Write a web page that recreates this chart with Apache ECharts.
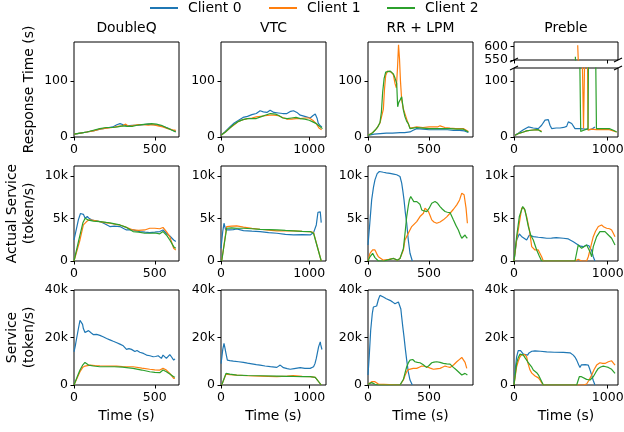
<!DOCTYPE html>
<html><head><meta charset="utf-8">
<script src="https://cdn.jsdelivr.net/npm/echarts@6/dist/echarts.min.js"></script>
<style>html,body{margin:0;padding:0;background:#fff}#c{width:624px;height:432px}</style>
</head><body><div id="c"></div>
<script>
// ---------- data: [time (s), value] ----------
// Row 1: Response Time (s)
const dqResp0 = [[0,5],[40,7],[80,9],[120,11],[160,14],[200,16],[240,18],[265,22],[285,24],[305,22],[330,20],[360,21],[400,21],[430,22],[460,23],[490,22],[520,21],[550,19],[580,16],[610,12],[630,10]];
const dqResp1 = [[0,5],[40,7],[80,9],[120,11],[160,14],[200,16],[240,17],[270,19],[300,20],[320,23],[340,19],[370,21],[400,22],[430,22],[460,21],[490,22],[520,20],[550,18],[580,15],[610,13],[630,12]];
const dqResp2 = [[0,5],[40,7],[80,9],[120,12],[160,15],[200,17],[240,17],[270,18],[300,20],[330,19],[360,19],[390,21],[420,22],[450,23],[480,24],[510,23],[540,21],[570,17],[600,13],[630,9]];

const vtcResp0 = [[0,3],[50,10],[100,18],[150,25],[200,30],[250,35],[300,37],[350,40],[400,42],[443,47],[480,45],[520,44],[557,48],[600,44],[650,43],[700,42],[747,42],[790,46],[822,47],[860,44],[898,39],[950,37],[1011,34],[1040,38],[1068,41],[1090,33],[1102,25],[1125,20],[1144,18]];
const vtcResp1 = [[0,3],[50,9],[100,16],[150,22],[200,28],[250,31],[300,33],[350,34],[400,36],[450,37],[500,38],[550,39],[600,39],[650,38],[700,35],[750,32],[800,32],[850,33],[900,33],[950,34],[1000,34],[1040,30],[1080,24],[1110,16],[1140,13]];
const vtcResp2 = [[0,3],[50,9],[100,16],[150,23],[200,28],[250,31],[300,33],[350,33],[400,33],[450,36],[500,39],[560,42],[620,41],[660,38],[700,34],[750,33],[800,34],[850,35],[900,33],[950,32],[1000,30],[1040,27],[1080,24],[1110,20],[1150,15]];

const rrResp0 = [[0,3],[50,5],[100,6],[150,7],[200,7],[262,8],[300,8],[344,9],[370,12],[399,15],[450,14],[500,13],[550,13],[600,13],[650,13],[700,12],[750,12],[790,11],[822,8]];
const rrResp1 = [[0,3],[40,8],[70,15],[98,25],[115,40],[126,50],[135,85],[145,110],[160,118],[175,120],[190,116],[208,111],[222,95],[232,88],[242,125],[250,165],[258,140],[266,100],[276,66],[290,50],[305,40],[317,32],[330,24],[344,16],[370,17],[399,18],[450,17],[500,18],[536,18],[570,18],[590,20],[630,17],[672,16],[720,15],[781,15],[822,10]];
const rrResp2 = [[0,3],[30,6],[57,12],[80,18],[98,26],[110,45],[120,80],[132,105],[145,116],[160,118],[180,118],[195,115],[208,113],[222,105],[235,96],[243,54],[252,62],[262,66],[276,72],[290,48],[303,36],[317,28],[330,24],[344,15],[370,16],[399,17],[450,16],[500,15],[536,15],[600,15],[672,15],[730,14],[781,14],[822,9]];

const pbResp0 = [[11,3],[40,6],[64,9],[100,13],[153,18],[206,16],[259,15],[295,21],[331,30],[350,29],[366,31],[384,21],[402,15],[450,16],[491,16],[530,17],[562,19],[580,27],[600,24],[616,24],[651,15],[704,15],[760,14],[811,13],[840,15],[864,18]];
const pbResp1 = [[11,3],[60,7],[100,9],[135,11],[180,12],[242,13],[270,12],[295,10],[300,null],[680,605],[742,15],[760,200],[778,300],[790,12],[820,14],[880,13],[950,13],[1017,13],[1060,11],[1096,9]];
const pbResp2 = [[11,3],[60,7],[100,9],[135,11],[180,12],[259,13],[295,9],[300,null],[655,562],[670,556],[712,10],[745,12],[790,15],[800,300],[862,300],[880,15],[950,15],[1017,15],[1060,12],[1096,9]];

// Row 2: Actual Service (token/s)
const dqAct0 = [[0,2500],[15,3800],[27,4850],[40,5600],[48,5750],[58,5500],[69,5050],[82,5240],[95,5000],[109,4850],[130,4750],[160,4650],[190,4400],[222,4060],[250,4100],[284,4060],[310,3800],[325,3660],[366,3660],[407,3470],[440,3400],[469,3350],[500,3400],[531,3470],[551,3660],[572,3270],[593,2950],[617,2480],[630,2300]];
const dqAct1 = [[0,0],[37,2480],[58,4250],[78,4650],[95,4850],[130,4750],[160,4650],[200,4500],[222,4450],[260,4300],[284,4250],[320,4000],[366,3660],[400,3600],[438,3660],[469,3860],[500,3860],[530,3800],[551,3950],[572,3470],[593,2870],[617,1500],[630,1300]];
const dqAct2 = [[0,0],[30,2500],[55,4500],[69,5050],[85,4850],[120,4700],[160,4650],[200,4550],[222,4500],[260,4350],[284,4250],[320,4000],[366,3470],[400,3400],[438,3270],[469,3270],[500,3300],[531,3200],[551,3470],[572,3070],[593,2480],[617,1690],[630,1500]];

const vtcAct0 = [[0,1500],[8,1690],[20,3500],[34,4450],[53,3660],[98,3660],[140,3700],[178,3780],[254,3580],[350,3520],[443,3470],[540,3350],[633,3270],[730,3150],[822,3070],[920,3100],[1011,3070],[1049,3350],[1080,4250],[1099,5750],[1117,5830],[1125,5800],[1136,4530]];
const vtcAct1 = [[8,0],[64,4060],[120,4100],[178,4140],[254,3990],[350,3850],[443,3740],[540,3650],[633,3550],[730,3550],[822,3550],[920,3500],[1011,3470],[1049,3350],[1070,3200],[1136,0]];
const vtcAct2 = [[8,0],[64,3860],[120,3900],[178,3860],[254,3860],[350,3800],[443,3740],[540,3700],[633,3660],[730,3600],[822,3550],[920,3500],[1011,3470],[1049,3270],[1070,3150],[1136,0]];

const rrAct0 = [[0,1890],[15,4500],[30,7210],[45,8700],[57,9570],[75,10300],[93,10550],[126,10460],[150,10400],[180,10330],[210,10250],[235,10170],[262,9960],[276,9180],[285,8300],[295,7210],[305,5800],[317,4450],[330,2480],[344,910],[363,0]];
const rrAct1 = [[0,0],[16,900],[38,1300],[57,1300],[70,900],[85,500],[126,100],[170,200],[208,300],[240,100],[262,300],[290,1300],[303,2480],[330,3270],[358,4060],[399,4650],[426,5240],[454,5630],[467,6230],[480,6000],[495,5830],[510,5300],[522,4850],[540,4600],[563,4450],[590,4600],[617,4850],[645,5200],[672,5630],[700,6100],[727,6620],[750,7200],[768,8000],[787,7810],[803,6230],[814,4450]];
const rrAct2 = [[0,0],[16,500],[38,900],[57,400],[85,0],[130,0],[180,200],[210,300],[240,100],[262,300],[290,1490],[305,3500],[317,5240],[330,6500],[339,7210],[350,7600],[363,7600],[375,7000],[385,6810],[400,7000],[412,7010],[425,6700],[440,6020],[460,5900],[481,5830],[500,6200],[522,6810],[549,7010],[570,6800],[590,6420],[610,6100],[631,5830],[650,5750],[672,5710],[685,5300],[699,4850],[720,4200],[740,3660],[755,3100],[768,2680],[780,2800],[795,3070],[805,2800],[814,2680]];

const pbAct0 = [[0,0],[28,2480],[57,3190],[80,2900],[100,2680],[135,2480],[164,3070],[206,2870],[260,2800],[300,2750],[349,2680],[400,2700],[450,2750],[527,2680],[580,2600],[633,2280],[686,1890],[710,1750],[740,1690],[775,1890],[800,1800],[811,1690],[830,1200],[846,510],[864,0]];
const pbAct1 = [[0,0],[28,2480],[57,4450],[82,6230],[107,6230],[135,5240],[164,3660],[189,1690],[224,1300],[259,1300],[295,500],[313,0],[651,0],[686,200],[720,0],[775,0],[793,500],[811,1300],[846,2870],[870,3500],[900,4060],[935,4250],[960,4000],[989,3860],[1020,3800],[1042,3660],[1060,3270],[1078,2870]];
const pbAct2 = [[0,0],[28,2870],[57,5240],[93,6420],[117,6020],[153,4060],[180,3000],[206,2480],[242,1300],[270,600],[295,0],[651,0],[686,1890],[722,1490],[775,1890],[811,1100],[829,500],[846,1690],[882,2870],[917,3470],[971,3470],[1007,3070],[1042,2680],[1078,1890]];

// Row 3: Service (token/s)
const dqSvc0 = [[0,14000],[8,16500],[16,19580],[28,24000],[37,27250],[43,28000],[48,27700],[53,25500],[58,23770],[68,22100],[80,22500],[90,22900],[105,22000],[119,21250],[140,21300],[160,20900],[180,20300],[202,19570],[222,19000],[243,18400],[265,17800],[284,17200],[305,16500],[325,15000],[340,15300],[356,15000],[377,14100],[390,14500],[407,13800],[430,13300],[449,12600],[470,12300],[490,11900],[505,12000],[521,12300],[541,11200],[551,12600],[562,12000],[572,11200],[583,11800],[593,12800],[603,11900],[617,10500],[625,11000]];
const dqSvc1 = [[0,0],[20,3000],[37,5580],[55,7500],[68,7970],[99,8380],[130,8200],[160,8100],[200,8000],[263,7970],[300,7800],[366,7680],[420,7100],[469,6620],[500,6400],[531,6290],[551,6990],[572,6290],[593,4880],[617,2800],[625,2900]];
const dqSvc2 = [[0,0],[20,3500],[37,6280],[55,8500],[68,9500],[90,8380],[120,8000],[160,7680],[250,7680],[300,7500],[366,6990],[420,6300],[469,5580],[500,5300],[531,5170],[551,6290],[572,5580],[593,4610],[617,3490],[625,3300]];

const vtcSvc0 = [[0,9000],[8,11190],[20,15000],[34,17480],[45,15500],[53,13960],[72,10480],[100,10300],[140,10060],[200,9800],[254,9500],[300,9200],[350,8900],[400,8600],[443,8380],[500,8000],[560,7700],[633,7420],[671,8380],[708,7290],[750,6900],[784,6620],[830,6900],[898,7290],[950,7000],[1011,6990],[1049,7680],[1065,9000],[1080,11190],[1106,16060],[1125,18150],[1130,17000],[1144,14940]];
const vtcSvc1 = [[8,0],[57,4610],[100,4400],[178,4190],[300,3900],[443,3770],[633,3490],[750,3700],[822,3910],[920,3600],[1011,3490],[1068,3210],[1136,0]];
const vtcSvc2 = [[8,0],[57,4890],[100,4600],[178,4190],[300,4000],[443,3900],[633,3770],[750,3650],[822,3600],[920,3550],[1011,3490],[1068,3210],[1136,0]];

const rrSvc0 = [[0,4190],[10,12000],[22,23060],[35,30000],[44,32830],[60,33000],[71,33260],[85,36000],[98,37740],[110,37600],[126,37040],[150,36300],[180,35640],[200,35000],[221,34240],[235,34700],[249,34940],[262,34240],[269,32000],[276,28650],[285,24500],[295,20260],[305,15500],[317,10480],[330,5500],[344,2100],[363,0]];
const rrSvc1 = [[0,300],[15,900],[30,1400],[57,1400],[70,900],[85,400],[100,0],[262,0],[275,600],[290,2100],[303,4000],[317,5590],[330,6500],[344,6990],[370,7000],[399,6990],[420,7500],[440,7970],[460,7900],[481,7680],[510,7100],[536,6620],[560,6800],[590,6990],[610,7500],[631,7970],[650,7700],[672,7410],[700,8400],[727,9780],[750,10800],[768,11600],[781,11190],[795,9500],[809,6990]];
const rrSvc2 = [[0,300],[15,700],[30,1000],[57,300],[85,0],[262,0],[275,800],[290,2400],[303,5000],[317,7680],[330,9300],[344,10480],[366,10750],[385,9780],[405,9500],[426,9360],[450,8600],[481,7410],[500,8200],[522,9360],[540,9600],[563,9780],[590,9500],[617,9080],[645,8900],[672,8800],[685,8200],[699,7410],[720,6500],[740,5590],[755,4800],[768,4190],[780,4500],[795,4890],[805,4400],[814,4190]];

const pbSvc0 = [[0,0],[15,7000],[28,11870],[45,14500],[57,15100],[70,14500],[82,13960],[100,13000],[117,12580],[145,12580],[160,13500],[171,13960],[190,14200],[224,14390],[280,14200],[349,13960],[430,13800],[527,13700],[598,13560],[633,12580],[655,11500],[669,10480],[690,8500],[704,7410],[720,8500],[740,9080],[760,8600],[793,8380],[810,6500],[829,4190],[845,2000],[864,0]];
const pbSvc1 = [[0,0],[28,7690],[45,10000],[64,11870],[82,12800],[100,13280],[117,12800],[135,11870],[150,9000],[171,6290],[190,5000],[206,4190],[225,3800],[242,3490],[260,3000],[277,2100],[295,1000],[313,0],[704,0],[740,0],[775,420],[800,2000],[829,4190],[855,6500],[882,8380],[917,9360],[945,9100],[971,9080],[1007,9780],[1042,10200],[1060,9360],[1078,8380]];
const pbSvc2 = [[0,0],[28,9080],[45,11500],[64,13000],[82,13000],[100,12580],[117,11500],[135,10480],[150,9500],[171,9080],[190,7500],[206,6290],[242,5170],[260,4300],[277,3490],[295,1500],[313,0],[669,0],[697,3490],[720,3500],[740,3490],[775,2380],[811,2100],[846,3490],[875,5500],[900,6990],[925,7600],[953,7970],[980,7700],[1007,7410],[1042,6620],[1078,4890]];

// ---------- labels & ticks ----------
const methods = ['DoubleQ', 'VTC', 'RR + LPM', 'Preble'];
const clients = ['Client 0', 'Client 1', 'Client 2'];
const rowNames = ['Response Time (s)', 'Actual Service\n(token/s)', 'Service\n(token/s)'];
const xMax = [650, 1190, 860, 1110];
const xTicks = [[0, 500], [0, 1000], [0, 500], [0, 1000]];
const yMax = [170, 11200, 40000];
const yTicks = [[0, 100], [0, 5000, 10000], [0, 20000, 40000]];
const brokenUpperRange = [550, 617];
const brokenUpperTicks = [550, 600];
const brokenLowerMax = 123;
const brokenLowerTicks = [0, 100];

const panelData = [
  [[dqResp0, dqResp1, dqResp2], [vtcResp0, vtcResp1, vtcResp2], [rrResp0, rrResp1, rrResp2], [pbResp0, pbResp1, pbResp2]],
  [[dqAct0, dqAct1, dqAct2], [vtcAct0, vtcAct1, vtcAct2], [rrAct0, rrAct1, rrAct2], [pbAct0, pbAct1, pbAct2]],
  [[dqSvc0, dqSvc1, dqSvc2], [vtcSvc0, vtcSvc1, vtcSvc2], [rrSvc0, rrSvc1, rrSvc2], [pbSvc0, pbSvc1, pbSvc2]]
];

// ---------- layout / style ----------
const FONT = 'DejaVu Sans';
const COLORS = ['#1f77b4', '#ff7f0e', '#2ca02c'];
const colLeft = [74, 221, 368, 514];
const colW = [105, 105, 105, 104];
const rowTop = [42, 166, 290];
const rowH = 95;
const LABEL_MARGIN = 6;

const fmtY = v => v >= 1000 ? (v / 1000) + 'k' : String(v);
const fmtX = v => String(v);
const tickStyle = ticks => ({show: true, inside: false, length: 3.5, lineStyle: {color: '#000', width: 1}, customValues: ticks});
const labelStyle = (ticks, show, fmt) => ({show: show !== false, customValues: ticks, margin: LABEL_MARGIN, color: '#000',
  fontFamily: FONT, fontSize: 12.5, formatter: fmt, showMinLabel: true, showMaxLabel: true});

const grids = [], xAxes = [], yAxes = [], series = [];

function addPanel(r, c, top, height, ymin, ymax, yt, ytLabels, data, opts) {
  const gi = grids.length;
  grids.push({left: colLeft[c], top: top, width: colW[c], height: height, show: true,
    borderColor: '#000', borderWidth: 1, backgroundColor: 'transparent', containLabel: false, outerBoundsMode: 'none'});
  const xa = {type: 'value', gridIndex: gi, min: 0, max: xMax[c], axisLine: {show: false}, splitLine: {show: false},
    axisTick: tickStyle(xTicks[c]), axisLabel: labelStyle(xTicks[c], !opts.hideXLabels, fmtX)};
  if (r === 2) {
    Object.assign(xa, {name: 'Time (s)', nameLocation: 'middle', nameGap: 24,
      nameTextStyle: {fontFamily: FONT, fontSize: 13.9, color: '#000'}});
  }
  xAxes.push(xa);
  const ya = {type: 'value', gridIndex: gi, min: ymin, max: ymax, axisLine: {show: false}, splitLine: {show: false},
    axisTick: tickStyle(yt), axisLabel: labelStyle(ytLabels, true, fmtY)};
  if (c === 0) {
    Object.assign(ya, {name: rowNames[r], nameLocation: 'middle', nameGap: 36, nameRotate: 90,
      nameTextStyle: {fontFamily: FONT, fontSize: 13.9, color: '#000', lineHeight: 17, align: 'center'}});
  }
  yAxes.push(ya);
  data.forEach((d, k) => {
    series.push({type: 'line', name: clients[k], xAxisIndex: gi, yAxisIndex: gi, data: d,
      showSymbol: false, symbol: 'none', connectNulls: false, clip: true, animation: false,
      lineStyle: {color: COLORS[k], width: 1.2}, itemStyle: {color: COLORS[k]}, z: 2 + k});
  });
  return gi;
}

let brokenLowerGrid = -1;
for (let r = 0; r < 3; r++) {
  for (let c = 0; c < 4; c++) {
    if (r === 0 && c === 3) {
      brokenLowerGrid = addPanel(r, c, 68, 69, 0, brokenLowerMax, brokenLowerTicks, [brokenLowerTicks[0]], panelData[r][c], {});
      // upper part of broken axis for Preble response time
      addPanel(0, 3, 42, 18, brokenUpperRange[0], brokenUpperRange[1], brokenUpperTicks, brokenUpperTicks, panelData[0][3], {hideXLabels: true});
    } else {
      addPanel(r, c, rowTop[r], rowH, 0, yMax[r], yTicks[r], yTicks[r], panelData[r][c], {});
    }
  }
}

const graphics = methods.map((m, c) => ({type: 'text', x: colLeft[c] + colW[c] / 2, y: 28,
  style: {text: m, fontFamily: FONT, fontSize: 13.9, fill: '#000', align: 'center', verticalAlign: 'middle'}}));
// break marks
[[colLeft[3], 60], [colLeft[3] + colW[3], 60], [colLeft[3], 68], [colLeft[3] + colW[3], 68]].forEach(p => {
  graphics.push({type: 'line', shape: {x1: p[0] - 4, y1: p[1] + 2, x2: p[0] + 4, y2: p[1] - 2}, style: {stroke: '#000', lineWidth: 1.2}});
});

const legendLeft = [150, 269, 387];
const legends = clients.map((n, i) => ({data: [n], left: legendLeft[i], top: 1, padding: 0, icon: 'rect',
  itemWidth: 28, itemHeight: 2, selectedMode: false,
  textStyle: {fontFamily: FONT, fontSize: 13.9, color: '#000', padding: [0, 0, 0, 5]}}));

const chart = echarts.init(document.getElementById('c'), null, {renderer: 'canvas'});
chart.setOption({
  animation: false,
  backgroundColor: '#fff',
  textStyle: {fontFamily: FONT},
  grid: grids, xAxis: xAxes, yAxis: yAxes, series: series,
  legend: legends, graphic: graphics
});

// tick labels of the broken axis's lower part above 0, positioned through the axis scale
try {
  const yAx = chart.getModel().getComponent('yAxis', brokenLowerGrid).axis;
  const xAx = chart.getModel().getComponent('xAxis', brokenLowerGrid).axis;
  const x0 = xAx.toGlobalCoord(xAx.dataToCoord(0));
  brokenLowerTicks.slice(1).forEach(v => {
    const y = yAx.toGlobalCoord(yAx.dataToCoord(v));
    graphics.push({type: 'text', x: x0 - LABEL_MARGIN, y: y, z: 100,
      style: {text: fmtY(v), fontFamily: FONT, fontSize: 12.5, fill: '#000', align: 'right', verticalAlign: 'middle'}});
  });
  chart.setOption({graphic: graphics});
} catch (e) {}
</script>
</body></html>
